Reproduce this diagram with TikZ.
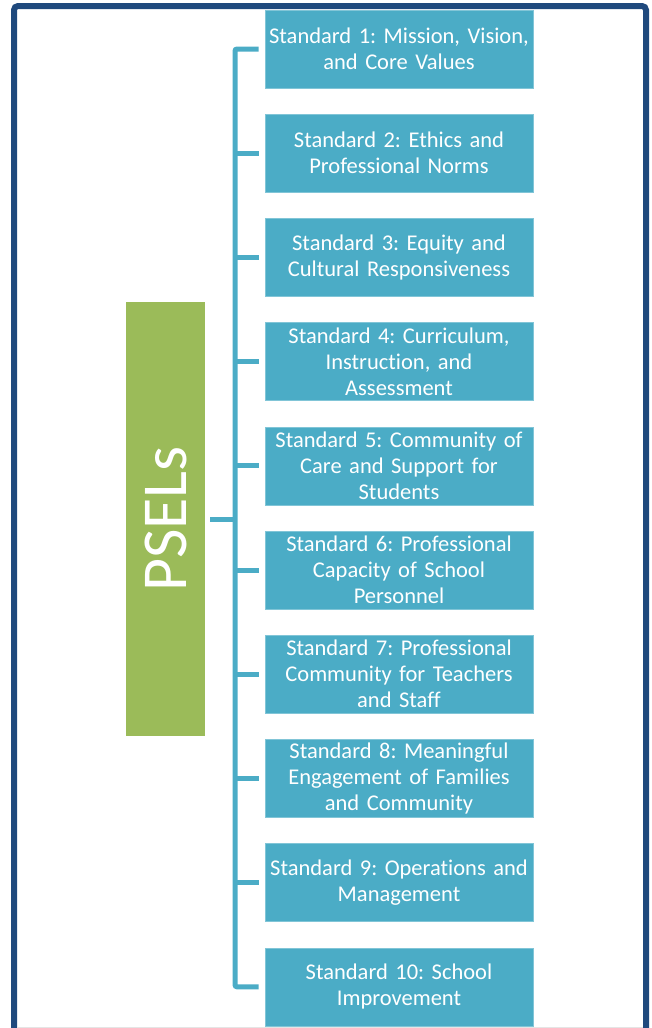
\documentclass[tikz,border=0pt]{standalone}
\usepackage{fontspec}
\setmainfont{Carlito}[Ligatures=NoCommon]
\frenchspacing
\usepackage{graphicx}
\usepackage{tikz}
\usetikzlibrary{positioning}
\definecolor{frame}{HTML}{1F497D}
\definecolor{aqua}{HTML}{4BACC6}
\definecolor{leaf}{HTML}{9BBB59}

\begin{document}
\begin{tikzpicture}[x=1pt, y=-1pt, node distance=25.6pt,
    stdbox/.style={fill=aqua, draw=aqua!70!white, line width=0.6pt, text=white, inner xsep=0pt,
      text width=268pt, minimum height=78pt, align=center, font=\fontsize{22.5}{26}\selectfont},
    link/.style={draw=aqua, line width=5pt, rounded corners=2pt}]
    \useasboundingbox (0,0) rectangle (652,1028);
    % frame, open at the bottom
    \draw[frame, line width=6pt, rounded corners=4pt] (14,1028) -- (14,6) -- (646,6) -- (646,1028);
    \draw[black!10, line width=0.8pt] (17,1027.5) -- (643,1027.5);
    % the ten standards
    \node[stdbox] (std1) at (399,49) {Standard 1: Mission, Vision,\\and Core Values};
    \node[stdbox, below=of std1] (std2) {Standard 2: Ethics and\\Professional Norms};
    \node[stdbox, below=of std2] (std3) {Standard 3: Equity and\\Cultural Responsiveness};
    \node[stdbox, below=of std3] (std4) {Standard 4: Curriculum,\\Instruction, and\\Assessment};
    \node[stdbox, below=of std4] (std5) {Standard 5: Community of\\Care and Support for\\Students};
    \node[stdbox, below=of std5] (std6) {Standard 6: Professional\\Capacity of School\\Personnel};
    \node[stdbox, below=of std6] (std7) {Standard 7: Professional\\Community for Teachers\\and Staff};
    \node[stdbox, below=of std7] (std8) {Standard 8: Meaningful\\Engagement of Families\\and Community};
    \node[stdbox, below=of std8] (std9) {Standard 9: Operations and\\Management};
    \node[stdbox, below=of std9] (std10) {Standard 10: School\\Improvement};
    % the root
    \node[fill=leaf, minimum width=79pt, minimum height=434pt, inner sep=0pt, text=white,
      font=\fontsize{64}{64}\selectfont] (psels) at (165.5,519) {\rotatebox{90}{PSELs}};
    \coordinate (spine) at (235,519);
    % bracket
    \draw[link] ([xshift=-6pt]std1.west) -- (std1.west -| spine) -- (std10.west -| spine) -- ([xshift=-6pt]std10.west);
    \draw[link] ([xshift=5pt]psels.east) -- (spine);
    \draw[link] (std2.west -| spine) -- ([xshift=-6pt]std2.west);
    \draw[link] (std3.west -| spine) -- ([xshift=-6pt]std3.west);
    \draw[link] (std4.west -| spine) -- ([xshift=-6pt]std4.west);
    \draw[link] (std5.west -| spine) -- ([xshift=-6pt]std5.west);
    \draw[link] (std6.west -| spine) -- ([xshift=-6pt]std6.west);
    \draw[link] (std7.west -| spine) -- ([xshift=-6pt]std7.west);
    \draw[link] (std8.west -| spine) -- ([xshift=-6pt]std8.west);
    \draw[link] (std9.west -| spine) -- ([xshift=-6pt]std9.west);
  \end{tikzpicture}
\end{document}
